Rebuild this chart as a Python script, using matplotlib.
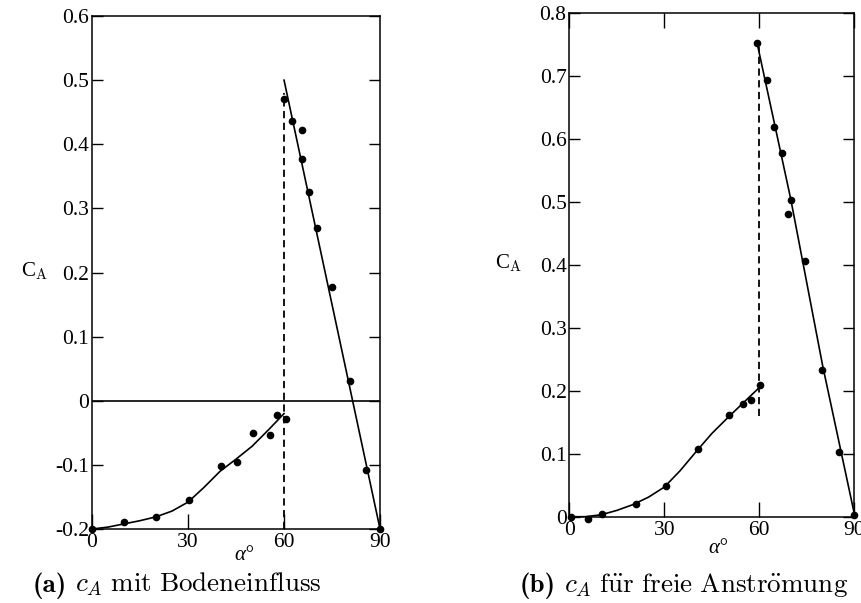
import numpy as np
import matplotlib.pyplot as plt

plt.rcParams['font.family'] = ['Liberation Serif', 'DejaVu Serif']
plt.rcParams['mathtext.fontset'] = 'cm'

# (a) mit Bodeneinfluss - Messpunkte
a_alpha = [0, 10, 20, 30.3, 40.3, 45.3, 50.4, 55.5, 57.8, 60.5, 60.1, 62.6, 65.5, 65.5, 67.9, 70.2, 75.1, 80.5, 85.5, 90]
a_ca = [-0.2, -0.189, -0.181, -0.155, -0.101, -0.096, -0.050, -0.054, -0.022, -0.029,
        0.470, 0.436, 0.422, 0.377, 0.325, 0.270, 0.177, 0.031, -0.108, -0.2]
# Ausgleichskurve unten
a_fit_alpha = [0, 5, 10, 15, 20, 25, 30, 35, 40, 45, 50, 55, 60]
a_fit_ca = [-0.2, -0.197, -0.192, -0.187, -0.181, -0.172, -0.158, -0.135, -0.110, -0.091, -0.071, -0.046, -0.02]
# Gerade oben
a_line_alpha = [60, 90]
a_line_ca = [0.5, -0.2]
a_dash_ca = [-0.2, 0.48]

# (b) freie Anstroemung - Messpunkte
b_alpha = [0.5, 6, 10.2, 21, 30.4, 40.8, 50.3, 55, 57.5, 60.1,
           59.4, 62.3, 64.7, 67.1, 69.9, 69.1, 74.5, 79.9, 85.2, 89.8]
b_ca = [0.0, -0.003, 0.004, 0.020, 0.049, 0.107, 0.162, 0.179, 0.185, 0.209,
        0.752, 0.693, 0.619, 0.578, 0.503, 0.480, 0.406, 0.233, 0.103, 0.002]
b_fit_alpha = [0, 5, 10, 15, 20, 25, 30, 35, 40, 45, 50, 55, 60]
b_fit_ca = [0.0, 0.0, 0.003, 0.010, 0.019, 0.031, 0.047, 0.073, 0.103, 0.132, 0.157, 0.181, 0.205]
b_line_alpha = [59.6, 69.9, 80, 90]
b_line_ca = [0.745, 0.505, 0.24, 0.005]
b_dash_ca = [0.16, 0.745]

fig = plt.figure(figsize=(8.61, 6.03), dpi=100)
ax1 = fig.add_axes([0.1069, 0.1227, 0.3345, 0.8507])
ax2 = fig.add_axes([0.6612, 0.1431, 0.3310, 0.8358])

def style(ax):
  ax.tick_params(direction='in', length=8, width=1, labelsize=15.5, pad=2,
                 right=True, colors='black')
  ax.tick_params(axis='x', length=11, pad=3)
  for s in ax.spines.values():
    s.set_linewidth(1.1)
  ax.yaxis.set_major_formatter(plt.FuncFormatter(lambda v, p: '%g' % round(v, 2)))

def caption(x, tag, rest):
  t = fig.text(x, 0.019, tag, fontsize=19.5, family='cmb10', ha='left', va='baseline')
  fig.canvas.draw()
  bb = t.get_window_extent()
  fig.text(bb.x1 / fig.bbox.width + 0.009, 0.019, rest, fontsize=19.5, ha='left', va='baseline')

# panel a
ax1.plot(a_fit_alpha, a_fit_ca, 'k-', lw=1.2)
ax1.plot(a_line_alpha, a_line_ca, 'k-', lw=1.2)
ax1.plot([60, 60], a_dash_ca, 'k--', lw=1.3, dashes=(4, 2.5))
ax1.axhline(0, color='k', lw=1.2)
ax1.plot(a_alpha, a_ca, 'ko', ms=4.5, clip_on=False)
ax1.set_xlim(0, 90)
ax1.set_ylim(-0.2, 0.6)
ax1.set_xticks([0, 30, 60, 90])
ax1.set_yticks(np.arange(-0.2, 0.61, 0.1))
style(ax1)
ax1.tick_params(axis='x', top=False)
fig.text(0.04, 0.55, r'C$_\mathrm{A}$', fontsize=15, ha='center', va='center')
fig.text(0.283, 0.079, 'α°', fontsize=15, ha='center', va='center', style='italic')

# panel b
ax2.plot(b_fit_alpha, b_fit_ca, 'k-', lw=1.2)
ax2.plot(b_line_alpha, b_line_ca, 'k-', lw=1.2)
ax2.plot([60, 60], b_dash_ca, 'k--', lw=1.3, dashes=(4, 2.5))
ax2.plot(b_alpha, b_ca, 'ko', ms=4.5, clip_on=False)
ax2.set_xlim(0, 90)
ax2.set_ylim(0, 0.8)
ax2.set_xticks([0, 30, 60, 90])
ax2.set_yticks(np.arange(0, 0.81, 0.1))
style(ax2)
ax2.tick_params(axis='x', top=True)
fig.text(0.591, 0.563, r'C$_\mathrm{A}$', fontsize=15, ha='center', va='center')
fig.text(0.834, 0.09, 'α°', fontsize=15, ha='center', va='center', style='italic')

caption(0.038, '(a)', r'$c_A\ \mathrm{mit\ Bodeneinfluss}$')
caption(0.604, '(b)', r'$c_A\ \mathrm{f\ddot{u}r\ freie\ Anstr\ddot{o}mung}$')

fig.savefig('out.png', dpi=100)
